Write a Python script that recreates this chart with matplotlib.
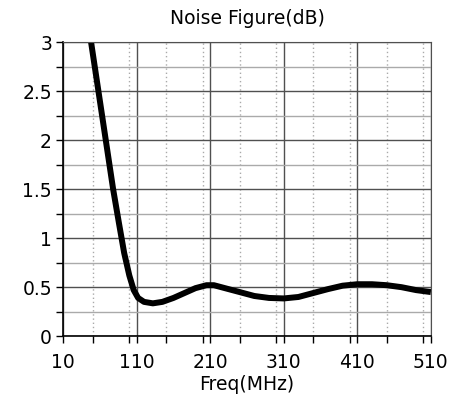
import numpy as np
import matplotlib
matplotlib.use('Agg')
import matplotlib.pyplot as plt
from matplotlib.ticker import MultipleLocator

freq = [48, 55, 62, 70, 78, 86, 93, 100, 106, 112, 120, 132, 145, 160, 175, 190,
        205, 215, 230, 250, 270, 290, 310, 330, 350, 370, 390, 410, 430, 450, 470, 490, 510]
nf = [3.0, 2.65, 2.3, 1.9, 1.5, 1.15, 0.85, 0.62, 0.47, 0.39, 0.35, 0.335, 0.35, 0.39, 0.44, 0.49,
      0.52, 0.52, 0.49, 0.45, 0.41, 0.39, 0.385, 0.40, 0.44, 0.48, 0.515, 0.53, 0.53, 0.52, 0.50, 0.47, 0.45]
xticks = [10, 110, 210, 310, 410, 510]
yticks = [0, 0.5, 1, 1.5, 2, 2.5, 3]
ytick_labels = ['0', '0.5', '1', '1.5', '2', '2.5', '3']

fig = plt.figure(figsize=(4.54, 4.12), dpi=100)
ax = fig.add_axes([0.139, 0.184, 0.810, 0.714])

ax.set_xlim(10, 510)
ax.set_ylim(0, 3)
ax.set_xticks(xticks)
ax.set_yticks(yticks)
ax.set_yticklabels(ytick_labels)
ax.xaxis.set_minor_locator(MultipleLocator(50))
ax.yaxis.set_minor_locator(MultipleLocator(0.25))

ax.grid(which='major', color='#505050', linewidth=1.0, linestyle='-')
ax.grid(which='minor', axis='y', color='#aaaaaa', linewidth=1.0, linestyle='-')
ax.grid(which='minor', axis='x', color='#aaaaaa', linewidth=1.0, linestyle=(0, (1, 2)))
ax.set_axisbelow(True)

ax.plot(freq, nf, color='black', linewidth=4.3, solid_capstyle='butt', clip_on=True)

for s in ['top', 'right']:
    ax.spines[s].set_color('#505050')
for s in ['left', 'bottom']:
    ax.spines[s].set_color('black')
    ax.spines[s].set_linewidth(1.2)

ax.tick_params(which='major', direction='out', length=5, width=1.0, labelsize=13.5, pad=3)
ax.tick_params(which='minor', direction='out', length=5, width=1.0)
ax.tick_params(axis='x', pad=7)

ax.set_title('Noise Figure(dB)', fontsize=13.5, pad=13)
ax.set_xlabel('Freq(MHz)', fontsize=13.5, labelpad=2)

fig.savefig('out.png', dpi=100)
